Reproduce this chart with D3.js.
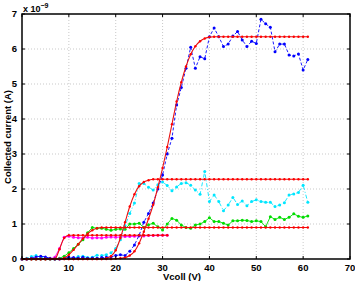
<!DOCTYPE html>
<html><head><meta charset="utf-8">
<script src="https://cdn.jsdelivr.net/npm/d3@7"></script>
<style>
body{margin:0;background:#fff}
svg{display:block}
text{font-family:"Liberation Sans",Arial,Helvetica,sans-serif;font-weight:bold;fill:#000}
</style>
</head><body>
<svg id="chart" width="355" height="281"></svg>
<script>
// ---- data (current in units of 1e-9 A) ----
const xTicks = [0,10,20,30,40,50,60,70];
const yTicks = [0,1,2,3,4,5,6,7];
const voltage = d3.range(0,62);        // 0..61 V
const voltageMag = d3.range(0,32);     // 0..31 V

const blue = [0,0,0.02,0.06,0.08,0.06,0.02,0,0,0.02,
  0.05,0.04,0.03,0.05,0.02,0.03,0.02,0.04,0.05,0.06,
  0.1,0.12,0.1,0.22,0.4,0.68,1.05,1.3,1.6,2.0,
  2.4,3.0,3.45,4.4,4.9,5.45,6.05,5.45,5.78,5.72,
  6.35,6.6,6.35,6.07,6.14,6.37,6.5,6.26,6.07,6.22,
  6.16,6.85,6.72,6.62,5.92,6.14,6.14,5.83,5.8,5.86,
  5.4,5.7];
const cyan = [0,0.02,0.07,0.1,0.05,0.02,0,0,0.01,0.02,
  0.03,0.02,0.07,0.08,0.04,0.05,0.11,0.1,0.12,0.18,
  0.3,0.55,0.95,1.3,1.6,2.16,2.16,2.05,1.97,2.12,
  2.2,2.1,1.95,2.06,2.16,2.18,2.11,1.97,1.85,2.5,
  1.64,1.83,1.64,1.38,1.54,1.76,1.56,1.66,1.52,1.64,
  1.69,1.64,1.62,1.62,1.5,1.54,1.61,1.83,1.86,1.9,
  2.11,1.62];
const green = [0,0,0,0,0,0,0,0,0.02,0.08,
  0.18,0.3,0.42,0.55,0.75,0.9,0.88,0.88,0.85,0.82,
  0.85,0.86,0.85,1.0,1.0,1.02,0.9,0.98,1.02,0.92,
  0.83,1.0,1.16,1.11,0.97,0.9,0.88,0.97,1.0,1.07,
  1.18,1.07,1.07,1.02,0.97,1.09,1.09,1.11,1.1,1.07,
  1.09,1.07,0.92,1.21,1.13,1.19,1.13,1.19,1.29,1.22,
  1.19,1.23];
const magenta = [0,0,0,0,0,0,0,0.05,0.3,0.62,
  0.65,0.62,0.61,0.6,0.62,0.6,0.61,0.6,0.62,0.63,
  0.62,0.63,0.64,0.64,0.65,0.66,0.66,0.67,0.67,0.68,
  0.68,0.68];

const fitBlue = [0,0,0,0,0,0,0,0,0,0,
  0,0,0,0,0,0,0,0,0,0,
  0.01,0.02,0.04,0.1,0.22,0.45,0.78,1.15,1.55,2.05,
  2.6,3.2,3.85,4.5,5.05,5.5,5.85,6.08,6.22,6.3,
  6.34,6.35,6.35,6.35,6.35,6.35,6.35,6.35,6.35,6.35,
  6.35,6.35,6.35,6.35,6.35,6.35,6.35,6.35,6.35,6.35,
  6.35,6.35];
const fitCyan = [0,0,0,0,0,0,0,0,0,0,
  0,0,0,0,0,0,0,0,0.02,0.08,
  0.25,0.6,1.05,1.5,1.85,2.08,2.2,2.25,2.28,2.28,
  2.28,2.28,2.28,2.28,2.28,2.28,2.28,2.28,2.28,2.28,
  2.28,2.28,2.28,2.28,2.28,2.28,2.28,2.28,2.28,2.28,
  2.28,2.28,2.28,2.28,2.28,2.28,2.28,2.28,2.28,2.28,
  2.28,2.28];
const fitGreen = [0,0,0,0,0,0,0,0,0,0.03,
  0.12,0.26,0.42,0.58,0.72,0.82,0.88,0.9,0.9,0.9,
  0.9,0.9,0.9,0.9,0.9,0.9,0.9,0.9,0.9,0.9,
  0.9,0.9,0.9,0.9,0.9,0.9,0.9,0.9,0.9,0.9,
  0.9,0.9,0.9,0.9,0.9,0.9,0.9,0.9,0.9,0.9,
  0.9,0.9,0.9,0.9,0.9,0.9,0.9,0.9,0.9,0.9,
  0.9,0.9];
const fitMagenta = [0,0,0,0,0,0,0,0,0.28,0.6,
  0.68,0.68,0.68,0.68,0.68,0.68,0.68,0.68,0.68,0.68,
  0.68,0.68,0.68,0.68,0.68,0.68,0.68,0.68,0.68,0.68,
  0.68,0.68];

// ---- layout ----
const svg = d3.select("#chart");
const L = 22, R = 350, T = 14, B = 259;
const x = d3.scaleLinear().domain([0,70]).range([L,R]);
const y = d3.scaleLinear().domain([0,7]).range([B,T]);

// grid
const g = svg.append("g");
g.selectAll(".gx").data(xTicks.filter(d=>d>0&&d<70)).enter().append("line")
  .attr("x1",d=>x(d)).attr("x2",d=>x(d)).attr("y1",T).attr("y2",B)
  .attr("stroke","#bbbbbb").attr("stroke-width",0.8).attr("stroke-dasharray","1,2");
g.selectAll(".gy").data(yTicks.filter(d=>d>0&&d<7)).enter().append("line")
  .attr("y1",d=>y(d)).attr("y2",d=>y(d)).attr("x1",L).attr("x2",R)
  .attr("stroke","#bbbbbb").attr("stroke-width",0.8).attr("stroke-dasharray","1,2");

// series
function series(xs, ys, color, dash, width){
  const pts = xs.map((v,i)=>[v, ys[i]]);
  const line = d3.line().x(d=>x(d[0])).y(d=>y(d[1]));
  svg.append("path").attr("d",line(pts)).attr("fill","none")
    .attr("stroke",color).attr("stroke-width",width||1)
    .attr("stroke-dasharray",dash||null);
  svg.append("g").selectAll("circle").data(pts).enter().append("circle")
    .attr("cx",d=>x(d[0])).attr("cy",d=>y(d[1])).attr("r",1.5).attr("fill",color);
}
function fit(xs, ys){
  const pts = xs.map((v,i)=>[v, ys[i]]);
  const line = d3.line().x(d=>x(d[0])).y(d=>y(d[1])).curve(d3.curveMonotoneX);
  svg.append("path").attr("d",line(pts)).attr("fill","none")
    .attr("stroke","#e81010").attr("stroke-width",1.1);
  svg.append("g").selectAll("circle").data(pts).enter().append("circle")
    .attr("cx",d=>x(d[0])).attr("cy",d=>y(d[1])).attr("r",1.2).attr("fill","#ff0000");
}

series(voltageMag, magenta, "#ff00ff", null, 0.9);
series(voltage, green, "#00dd00", null, 0.9);
series(voltage, cyan, "#00e6ff", "4,2,1,2", 0.9);
series(voltage, blue, "#0000ff", "3,2", 0.9);

fit(voltageMag, fitMagenta);
fit(voltage, fitGreen);
fit(voltage, fitCyan);
fit(voltage, fitBlue);

// frame & ticks
svg.append("rect").attr("x",L).attr("y",T).attr("width",R-L).attr("height",B-T)
  .attr("fill","none").attr("stroke","#000").attr("stroke-width",1.5);
const tk = 3;
xTicks.forEach(d=>{
  svg.append("line").attr("x1",x(d)).attr("x2",x(d)).attr("y1",B).attr("y2",B-tk).attr("stroke","#000");
  svg.append("line").attr("x1",x(d)).attr("x2",x(d)).attr("y1",T).attr("y2",T+tk).attr("stroke","#000");
  svg.append("text").attr("x",x(d)).attr("y",270.5).attr("text-anchor","middle")
    .attr("font-size","9.5px").text(d);
});
yTicks.forEach(d=>{
  svg.append("line").attr("x1",L).attr("x2",L+tk).attr("y1",y(d)).attr("y2",y(d)).attr("stroke","#000");
  svg.append("line").attr("x1",R).attr("x2",R-tk).attr("y1",y(d)).attr("y2",y(d)).attr("stroke","#000");
  svg.append("text").attr("x",17).attr("y",y(d)+3.4).attr("text-anchor","end")
    .attr("font-size","9.5px").text(d);
});

// exponent
const ex = svg.append("text").attr("x",23).attr("y",12).attr("font-size","9px");
ex.append("tspan").text("x 10");
ex.append("tspan").attr("dy",-4).attr("font-size","7px").text("\u22129");

// labels
svg.append("text").attr("x",182).attr("y",279.5).attr("text-anchor","middle")
  .attr("font-size","9.5px").text("Vcoll (V)");
svg.append("text").attr("transform","translate(10.5,137) rotate(-90)")
  .attr("text-anchor","middle").attr("font-size","9.5px").text("Collected current (A)");
</script>
</body></html>
